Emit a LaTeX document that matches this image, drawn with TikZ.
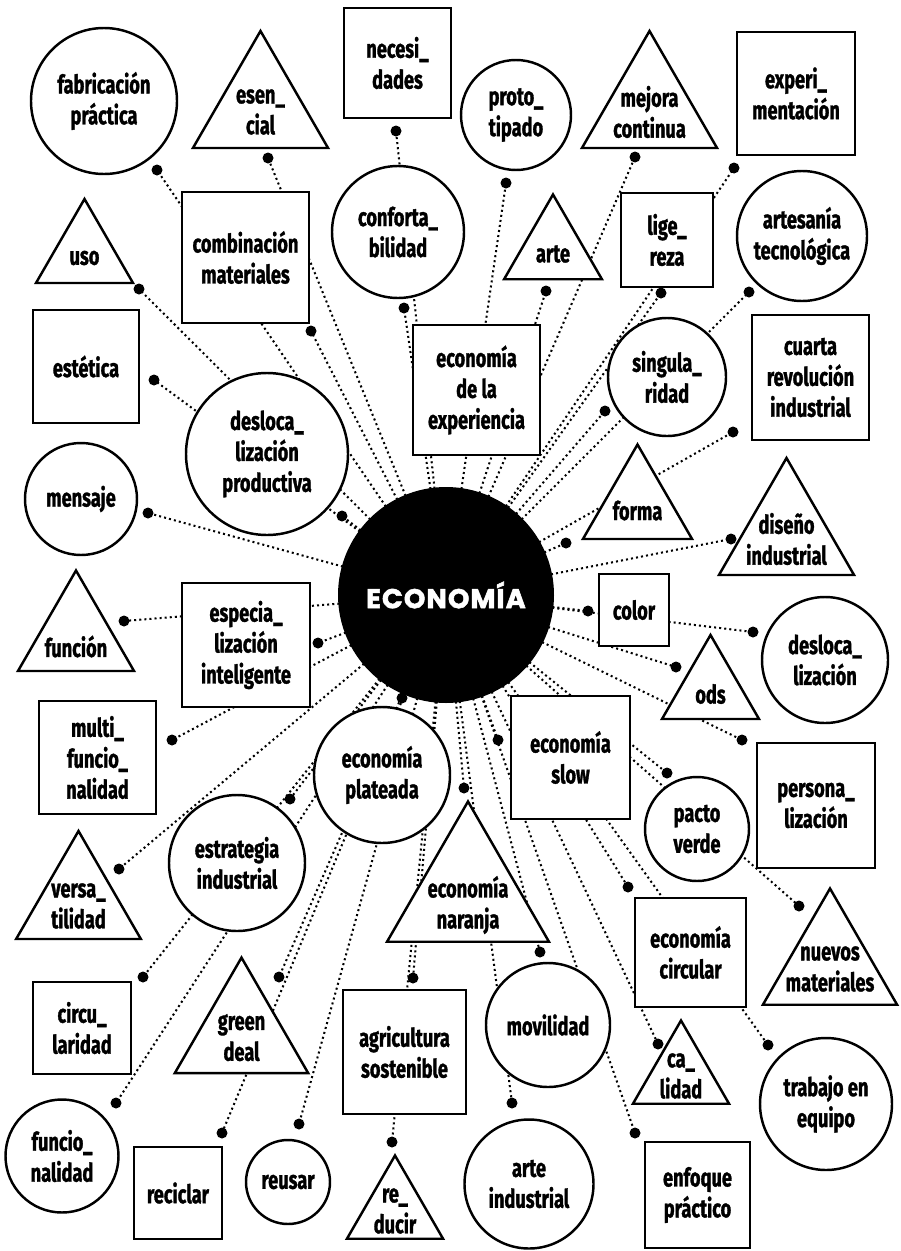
\documentclass[tikz,border=0pt]{standalone}
\usepackage{fontspec}
\setmainfont{Fira Sans}[FakeStretch=0.71,FakeBold=1.2]
\newfontfamily\hubfont{Poppins}[LetterSpace=4,FakeBold=2]
\usepackage{tikz}
\usetikzlibrary{shapes.geometric}
\pgfdeclarelayer{back}
\pgfsetlayers{back,main}
\tikzset{
  lbl/.style={font=\bfseries\fontsize{14.6}{17.6}\selectfont,align=center},
  bub/.style={lbl,circle,draw,fill=white,line width=1.4pt,inner sep=0pt,minimum size=#1*0.02cm},
  box/.style 2 args={lbl,rectangle,draw,fill=white,line width=1.4pt,inner sep=0pt,
                     minimum width=#1*0.02cm,minimum height=#2*0.02cm},
  tri/.style={regular polygon,regular polygon sides=3,draw,fill=white,line width=1.4pt,
              inner sep=0pt,minimum size=#1*0.02cm},
  tlbl/.style={lbl,yshift=-0.06cm},
  link/.style={line width=1.15pt,dash pattern=on 1.15pt off 1.75pt},
  dot/.style={circle,fill=black,inner sep=0pt,minimum size=0.22cm}
}

\begin{document}
\begin{tikzpicture}[x=0.02cm,y=-0.02cm]
\useasboundingbox (0,0) rectangle (901,1251);

% Hub
\node[circle,fill=black,inner sep=0pt,minimum size=216*0.02cm,text=white,
      font=\hubfont\bfseries\fontsize{15.5}{18}\selectfont] (eco) at (446,595) {ECONOMÍA};

% Circles
\node[bub=146] (fabricacion) at (104,101) {fabricación\\práctica};
\node[bub=110] (prototipado) at (516,115) {proto\_\\tipado};
\node[bub=132] (confort) at (398,232) {conforta\_\\bilidad};
\node[bub=130] (artesania) at (802,236) {artesanía\\tecnológica};
\node[bub=118] (singular) at (667,377) {singula\_\\ridad};
\node[bub=162] (deslocprod) at (267,454) {desloca\_\\lización\\productiva};
\node[bub=112] (mensaje) at (81,499) {mensaje};
\node[bub=126] (desloc) at (825,660) {desloca\_\\lización};
\node[bub=136] (plateada) at (382,775) {economía\\plateada};
\node[bub=104] (pacto) at (697,829) {pacto\\verde};
\node[bub=136] (estrategia) at (237,863) {estrategia\\industrial};
\node[bub=124] (movilidad) at (548,1025) {movilidad};
\node[bub=132] (trabajo) at (826,1104) {trabajo en\\equipo};
\node[bub=113] (funcional) at (62,1156) {funcio\_\\nalidad};
\node[bub=84] (reusar) at (288,1182) {reusar};
\node[bub=129] (arteind) at (529,1184) {arte\\industrial};

% Boxes
\node[box={107}{110}] (necesidades) at (397.5,63) {necesi\_\\dades};
\node[box={118}{123}] (experimenta) at (796,93.5) {experi\_\\mentación};
\node[box={92}{94}] (ligereza) at (667,240) {lige\_\\reza};
\node[box={127}{131}] (combinacion) at (245.5,257.5) {combinación\\materiales};
\node[box={127}{130}] (experiencia) at (476.5,390) {economía\\de la\\experiencia};
\node[box={117}{125}] (cuarta) at (810.5,377.5) {cuarta\\revolución\\industrial};
\node[box={106}{113}] (estetica) at (86,366.5) {estética};
\node[box={70}{72}] (color) at (634,610) {color};
\node[box={128}{124}] (especial) at (246,645) {especia\_\\lización\\inteligente};
\node[box={117}{113}] (multi) at (97.5,757.5) {multi\_\\funcio\_\\nalidad};
\node[box={119}{123}] (slow) at (570.5,757.5) {economía\\slow};
\node[box={118}{125}] (persona) at (816,805.5) {persona\_\\lización};
\node[box={98}{92}] (circu) at (82,1028) {circu\_\\laridad};
\node[box={123}{124}] (agricultura) at (404.5,1052) {agricultura\\sostenible};
\node[box={111}{109}] (circular) at (690.5,952.5) {economía\\circular};
\node[box={88}{92}] (reciclar) at (178,1193) {reciclar};
\node[box={105}{106}] (enfoque) at (697.5,1195) {enfoque\\práctico};

% Triangles
\node[tri=156,label={[tlbl]center:esen\_\\cial}] (esencial) at (260.5,109) {};
\node[tri=156,label={[tlbl]center:mejora\\continua}] (mejora) at (649.5,109) {};
\node[tri=113,label={[tlbl]center:arte}] (arte) at (553,251) {};
\node[tri=112,label={[tlbl]center:uso}] (uso) at (84.5,255) {};
\node[tri=126,label={[tlbl]center:forma}] (forma) at (637.5,507.5) {};
\node[tri=156,label={[tlbl]center:diseño\\industrial}] (diseno) at (786.5,536) {};
\node[tri=134,label={[tlbl,yshift=-0.12cm]center:función}] (funcion) at (76,637.5) {};
\node[tri=112,label={[tlbl]center:ods}] (ods) at (710.5,691) {};
\node[tri=144,label={[tlbl]center:versa\_\\tilidad}] (versa) at (78.5,903) {};
\node[tri=187,label={[tlbl,yshift=-0.14cm]center:economía\\naranja}] (naranja) at (468,895) {};
\node[tri=154,label={[tlbl]center:green\\deal}] (green) at (241.5,1034.6) {};
\node[tri=155,label={[tlbl]center:nuevos\\materiales}] (nuevos) at (830,966) {};
\node[tri=111,label={[lbl]center:ca\_\\lidad}] (calidad) at (681,1076) {};
\node[tri=111,label={[lbl]center:re\_\\ducir}] (reducir) at (395,1211) {};

% Dots and links
\foreach \n/\x/\y in {fabr/157/170, esen/268/158, nece/396/131, uso/139/289,
    comb/311/331, conf/404/308, este/154/380, prot/506/183, mejo/635/157,
    expe/734/168, arte/546/291, lige/661/293, artt/749/292, sing/605/411,
    mens/148/513, desp/342/516, func/124/621, espe/318/643, mult/172/740,
    plat/402/698, estr/290/799, cuar/733/432, form/566/543, dise/731/539,
    colo/588/611, desl/753/632, ods/676/667, pers/742/740, slow/498/740,
    pact/667/773, nara/464/788, vers/119/869, circ/143/977, gree/279/977,
    agri/413/978, funl/116/1103, reci/222/1133, reus/299/1124, redu/392/1142,
    ecir/628/887, nuev/799/906, movi/540/952, cali/658/1044, trab/768/1045,
    arti/512/1103, enfo/635/1133}{
  \node[dot] (d-\n) at (\x,\y) {};
  \begin{pgfonlayer}{back}
    \draw[link] (eco.center) -- (d-\n.center);
  \end{pgfonlayer}
}

\end{tikzpicture}
\end{document}
